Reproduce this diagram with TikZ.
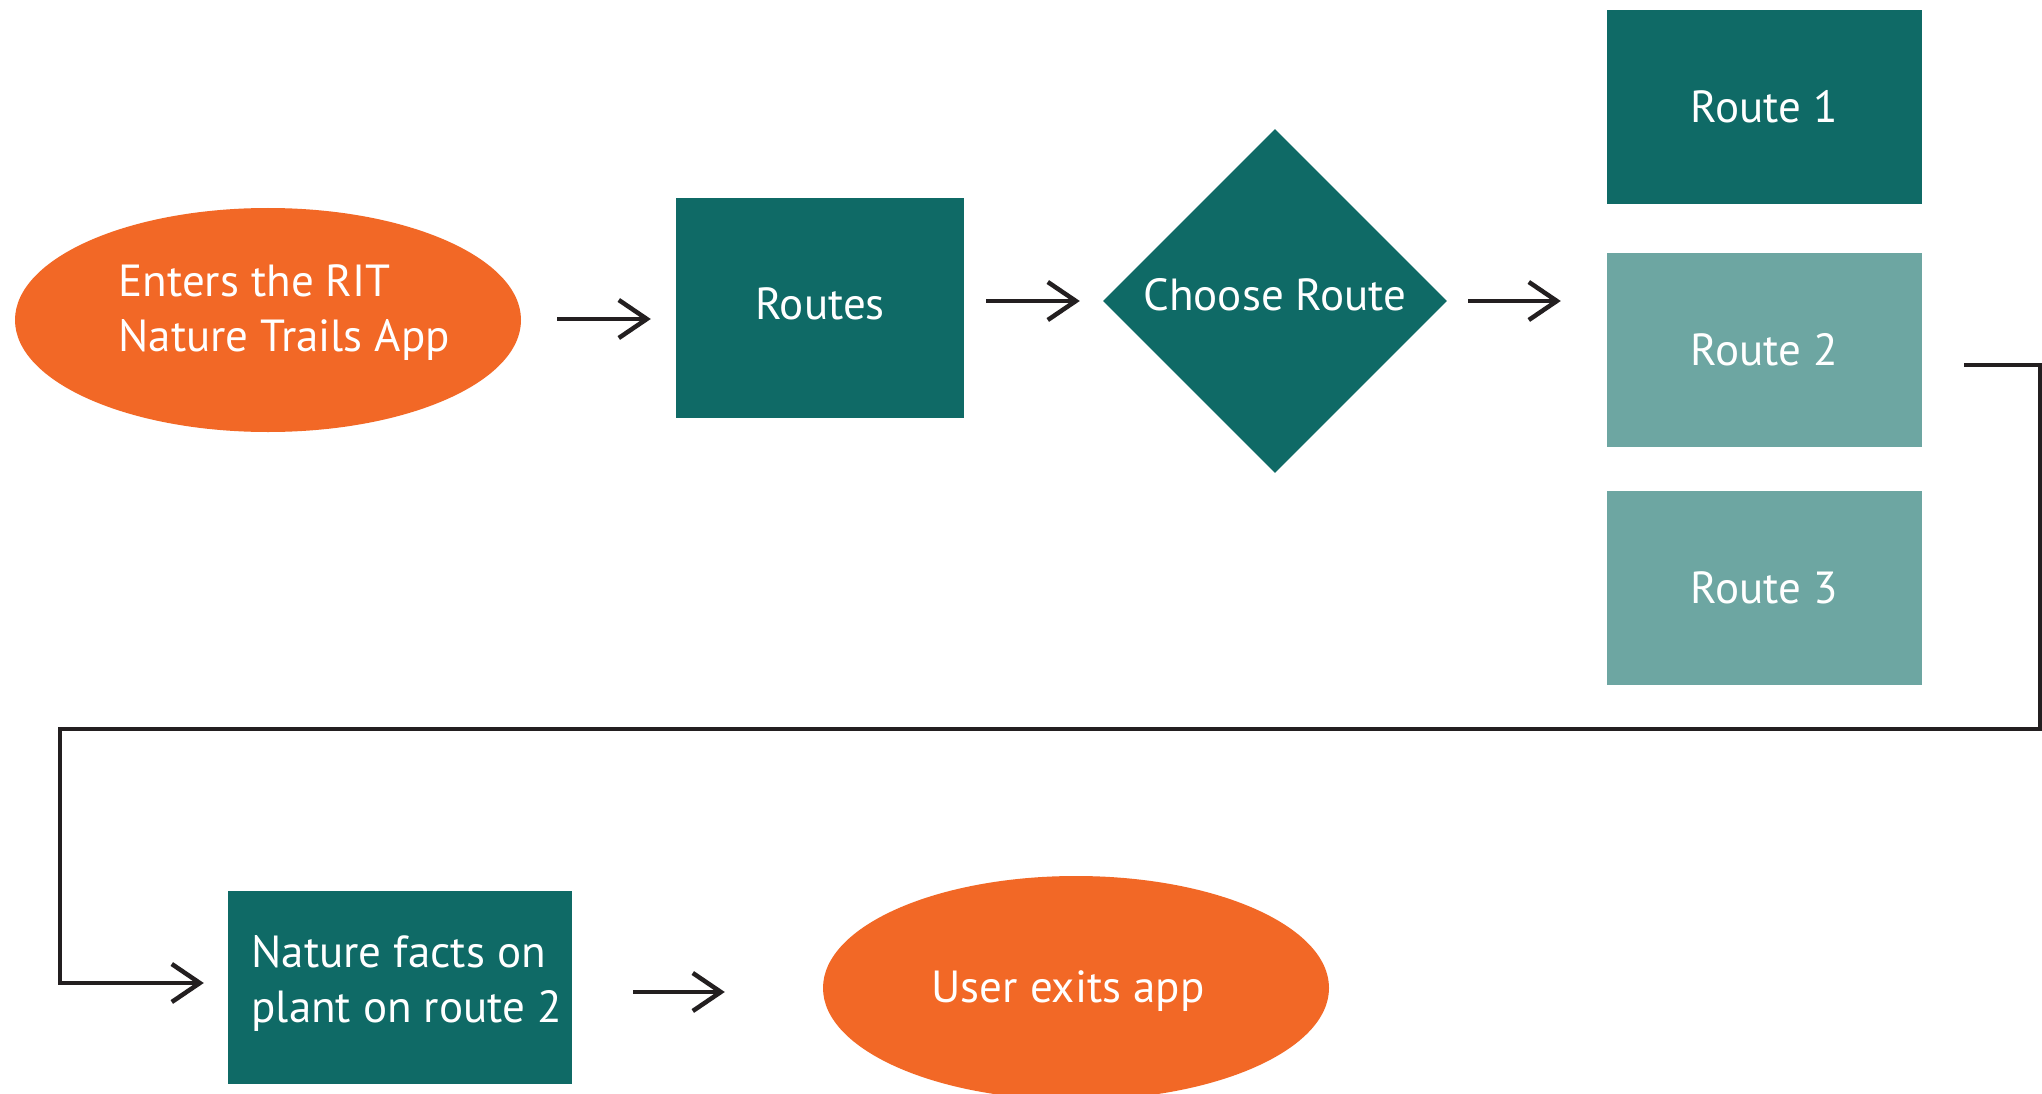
\documentclass[tikz,border=0pt]{standalone}
\usepackage{fontspec}
\setmainfont{PT Sans}
\usetikzlibrary{shapes.geometric,arrows.meta,calc}
\definecolor{tealdark}{HTML}{0F6A66}
\definecolor{teallight}{HTML}{6DA6A2}
\definecolor{orangefill}{HTML}{F26826}
\definecolor{inkline}{HTML}{231F20}
\tikzset{
  lbl/.style={text=white, font=\fontsize{45}{55}\selectfont},
  oval/.style={ellipse, fill=orangefill, inner sep=0pt, minimum width=506pt, minimum height=224pt, lbl},
  darkbox/.style={rectangle, fill=tealdark, inner sep=0pt, lbl},
  lightbox/.style={rectangle, fill=teallight, inner sep=0pt, lbl},
  choice/.style={diamond, fill=tealdark, inner sep=0pt, minimum width=344pt, minimum height=344pt, lbl},
  arr/.style={draw=inkline, line width=4.5pt, -{Straight Barb[length=28pt,width=38pt]}},
  wire/.style={draw=inkline, line width=4.5pt, line cap=rect}
}
\begin{document}
\begin{tikzpicture}[x=1pt,y=-1pt]
\useasboundingbox (0,0) rectangle (2042,1094);
\fill[white] (0,0) rectangle (2042,1094);

% top row
\node[oval] (enter) at (268,320) {};
\node[lbl, align=left, anchor=north west] (entertxt) at (115,261) {Enters the RIT\\Nature Trails App};
\node[darkbox, minimum width=288pt, minimum height=220pt] (routes) at (820,308) {};
\node[lbl] (routestxt) at (820,304) {Routes};
\node[choice] (choose) at (1275,301) {};
\node[lbl] (choosetxt) at (1275,295) {Choose Route};

% the three routes
\node[darkbox, minimum width=315pt, minimum height=194pt] (r1) at (1764.5,107) {Route 1};
\node[lightbox, minimum width=315pt, minimum height=194pt] (r2) at (1764.5,350) {Route 2};
\node[lightbox, minimum width=315pt, minimum height=194pt] (r3) at (1764.5,588) {Route 3};

% bottom row
\node[darkbox, minimum width=344pt, minimum height=193pt] (facts) at (400,987.5) {};
\node[lbl, align=left, anchor=north west] (factstxt) at (248,932) {Nature facts on\\plant on route 2};
\node[oval] (exitapp) at (1076,988) {};
\node[lbl] (exittxt) at (1068,991) {User exits app};

% connectors
\draw[arr] ([xshift=36pt]enter.east |- 0,319) -- ([xshift=-25pt]routes.west |- 0,319);
\draw[arr] ([xshift=22pt]routes.east |- choose.west) -- ([xshift=-23pt]choose.west);
\draw[arr] ([xshift=21pt]choose.east) -- ([xshift=-46pt]choose.east -| r2.west);

\coordinate (loopstart) at (1966,365);
\coordinate (loopright) at (2040,365);
\coordinate (loopleft) at (60,729);
\draw[wire] (loopstart) -- (loopright) |- (loopleft) -- (60,983);
\draw[arr] (60,983) -- ([xshift=-24pt]facts.west |- 0,983);

\draw[arr] ([xshift=61pt]facts.east |- 0,992) -- ([xshift=-98pt]exitapp.west |- 0,992);
\end{tikzpicture}
\end{document}
